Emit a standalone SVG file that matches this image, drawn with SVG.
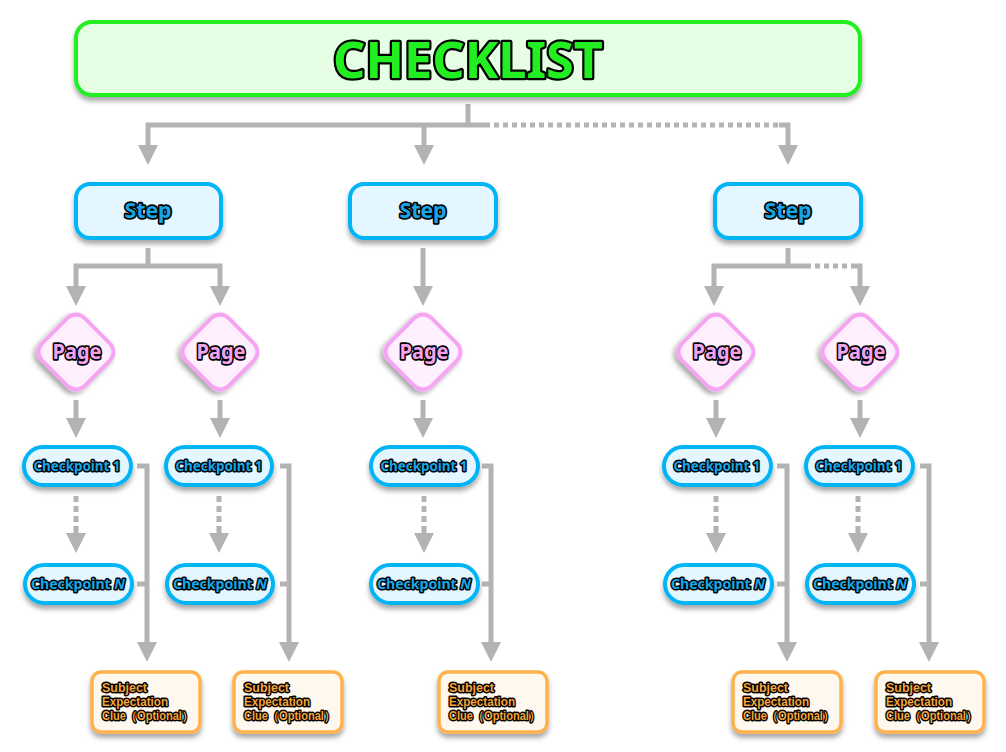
<svg xmlns="http://www.w3.org/2000/svg" width="1006" height="752" viewBox="0 0 1006 752">
<defs>
<filter id="sh" x="-20%" y="-20%" width="140%" height="160%">
<feDropShadow dx="0" dy="4" stdDeviation="2.5" flood-color="#000" flood-opacity="0.35"/>
</filter>
<marker id="ah" markerUnits="userSpaceOnUse" markerWidth="20" markerHeight="20" refX="0" refY="10" orient="auto" viewBox="0 0 20 20">
<path d="M0,0 L20,10 L0,20 z" fill="#b3b3b3"/>
</marker>
</defs>
<style>
.c{fill:none;stroke:#b3b3b3;stroke-width:5}
.a{marker-end:url(#ah)}
.d{stroke-dasharray:5 4}
.t{font-family:"Noto Sans","Open Sans",sans-serif;font-weight:bold;paint-order:stroke;stroke:#000;stroke-linejoin:round;text-anchor:middle}
.title{fill:#e6ffe4;stroke:#22ee22;stroke-width:4}
.step{fill:#e4f6ff;stroke:#00b4f5;stroke-width:4}
.page{fill:#fff0ff;stroke:#f7a3f3;stroke-width:4}
.subj{fill:#fff8ef;stroke:#ffb24c;stroke-width:3.5}
.ts{fill:#18a6e6;stroke-width:3.4;font-size:21px}
.tc{fill:#18a6e6;stroke-width:3;font-size:14px}
.tp{fill:#f2a3ef;stroke-width:3.4;font-size:22px}
.to{font-family:"Liberation Sans",Arial,sans-serif;fill:#f4a53c;stroke-width:2.8;font-size:12px;text-anchor:start}
</style>
<g id="connectors">
<path class="c" d="M468,104 V125"/>
<path class="c a" d="M485,125 H148 V145"/>
<path class="c a" d="M424,125 V145"/>
<path class="c d" d="M485,125 H781"/>
<path class="c a" d="M779,125 H788 V145"/>
<path class="c" d="M148,248 V266"/>
<path class="c a" d="M148,266 H76 V286"/>
<path class="c a" d="M148,266 H220 V286"/>
<path class="c a" d="M423,248 V286"/>
<path class="c" d="M788,248 V266"/>
<path class="c a" d="M806,266 H714 V286"/>
<path class="c d" d="M806,266 H852"/>
<path class="c a" d="M851,266 H860 V286"/>
<path class="c a" d="M76,400 V418"/>
<path class="c a" d="M220,400 V418"/>
<path class="c a" d="M423,400 V418"/>
<path class="c a" d="M716,400 V418"/>
<path class="c a" d="M860,400 V418"/>
<path class="c d" d="M76,496 V527" style="stroke-dasharray:6 4"/>
<path class="c a" d="M76,526 V533"/>
<path class="c d" d="M219,496 V527" style="stroke-dasharray:6 4"/>
<path class="c a" d="M219,526 V533"/>
<path class="c d" d="M424,496 V527" style="stroke-dasharray:6 4"/>
<path class="c a" d="M424,526 V533"/>
<path class="c d" d="M716,496 V527" style="stroke-dasharray:6 4"/>
<path class="c a" d="M716,526 V533"/>
<path class="c d" d="M858,496 V527" style="stroke-dasharray:6 4"/>
<path class="c a" d="M858,526 V533"/>
<path class="c" d="M137,584 H147"/>
<path class="c a" d="M137,466 H147 V642"/>
<path class="c" d="M280,584 H289"/>
<path class="c a" d="M280,466 H289 V642"/>
<path class="c" d="M482,584 H491"/>
<path class="c a" d="M482,466 H491 V642"/>
<path class="c" d="M777,584 H787"/>
<path class="c a" d="M777,466 H787 V642"/>
<path class="c" d="M920,584 H929"/>
<path class="c a" d="M920,466 H929 V642"/>
</g>
<g id="title">
<rect class="title" x="76" y="22" width="784" height="73" rx="16" filter="url(#sh)"/>
<text class="t" x="468" y="78" style="fill:#22ee22;stroke-width:4.5;font-size:51px" textLength="270" lengthAdjust="spacingAndGlyphs">CHECKLIST</text>
</g>
<g id="step1"><rect class="step" x="76" y="184" width="145" height="54" rx="14" filter="url(#sh)"/><text class="t ts" x="148" y="218" textLength="47" lengthAdjust="spacingAndGlyphs">Step</text></g>
<g id="step2"><rect class="step" x="350" y="184" width="146" height="54" rx="14" filter="url(#sh)"/><text class="t ts" x="423" y="218" textLength="47" lengthAdjust="spacingAndGlyphs">Step</text></g>
<g id="step3"><rect class="step" x="715" y="184" width="146" height="54" rx="14" filter="url(#sh)"/><text class="t ts" x="788" y="218" textLength="47" lengthAdjust="spacingAndGlyphs">Step</text></g>
<g id="page1"><rect class="page" x="46" y="322" width="60" height="60" rx="12" transform="rotate(45 76 352)" filter="url(#sh)"/><text class="t tp" x="77" y="359" textLength="49" lengthAdjust="spacingAndGlyphs">Page</text></g>
<g id="page2"><rect class="page" x="190" y="322" width="60" height="60" rx="12" transform="rotate(45 220 352)" filter="url(#sh)"/><text class="t tp" x="221" y="359" textLength="49" lengthAdjust="spacingAndGlyphs">Page</text></g>
<g id="page3"><rect class="page" x="393" y="322" width="60" height="60" rx="12" transform="rotate(45 423 352)" filter="url(#sh)"/><text class="t tp" x="424" y="359" textLength="49" lengthAdjust="spacingAndGlyphs">Page</text></g>
<g id="page4"><rect class="page" x="686" y="322" width="60" height="60" rx="12" transform="rotate(45 716 352)" filter="url(#sh)"/><text class="t tp" x="717" y="359" textLength="49" lengthAdjust="spacingAndGlyphs">Page</text></g>
<g id="page5"><rect class="page" x="830" y="322" width="60" height="60" rx="12" transform="rotate(45 860 352)" filter="url(#sh)"/><text class="t tp" x="861" y="359" textLength="49" lengthAdjust="spacingAndGlyphs">Page</text></g>
<g id="cp1a"><rect class="step" x="24" y="447" width="107" height="38" rx="19" filter="url(#sh)"/><text class="t tc" x="77" y="471" textLength="87" lengthAdjust="spacingAndGlyphs">Checkpoint 1</text></g>
<g id="cp1b"><rect class="step" x="166" y="447" width="106" height="38" rx="19" filter="url(#sh)"/><text class="t tc" x="219" y="471" textLength="87" lengthAdjust="spacingAndGlyphs">Checkpoint 1</text></g>
<g id="cp1c"><rect class="step" x="371" y="447" width="107" height="38" rx="19" filter="url(#sh)"/><text class="t tc" x="424" y="471" textLength="87" lengthAdjust="spacingAndGlyphs">Checkpoint 1</text></g>
<g id="cp1d"><rect class="step" x="664" y="447" width="107" height="38" rx="19" filter="url(#sh)"/><text class="t tc" x="717" y="471" textLength="87" lengthAdjust="spacingAndGlyphs">Checkpoint 1</text></g>
<g id="cp1e"><rect class="step" x="806" y="447" width="107" height="38" rx="19" filter="url(#sh)"/><text class="t tc" x="859" y="471" textLength="87" lengthAdjust="spacingAndGlyphs">Checkpoint 1</text></g>
<g id="cpNa"><rect class="step" x="25" y="565" width="107" height="38" rx="19" filter="url(#sh)"/><text class="t tc" x="78" y="589" textLength="94" lengthAdjust="spacingAndGlyphs">Checkpoint <tspan font-style="italic">N</tspan></text></g>
<g id="cpNb"><rect class="step" x="167" y="565" width="106" height="38" rx="19" filter="url(#sh)"/><text class="t tc" x="220" y="589" textLength="94" lengthAdjust="spacingAndGlyphs">Checkpoint <tspan font-style="italic">N</tspan></text></g>
<g id="cpNc"><rect class="step" x="371" y="565" width="107" height="38" rx="19" filter="url(#sh)"/><text class="t tc" x="424" y="589" textLength="94" lengthAdjust="spacingAndGlyphs">Checkpoint <tspan font-style="italic">N</tspan></text></g>
<g id="cpNd"><rect class="step" x="665" y="565" width="107" height="38" rx="19" filter="url(#sh)"/><text class="t tc" x="718" y="589" textLength="94" lengthAdjust="spacingAndGlyphs">Checkpoint <tspan font-style="italic">N</tspan></text></g>
<g id="cpNe"><rect class="step" x="807" y="565" width="107" height="38" rx="19" filter="url(#sh)"/><text class="t tc" x="860" y="589" textLength="94" lengthAdjust="spacingAndGlyphs">Checkpoint <tspan font-style="italic">N</tspan></text></g>
<g id="subj1"><rect class="subj" x="92" y="672" width="108" height="60" rx="9" filter="url(#sh)"/><text class="t to" x="102" y="692" textLength="45" lengthAdjust="spacingAndGlyphs">Subject</text><text class="t to" x="102" y="706" textLength="66" lengthAdjust="spacingAndGlyphs">Expectation</text><text class="t to" x="102" y="720" textLength="91" lengthAdjust="spacingAndGlyphs">Clue（Optional）</text></g>
<g id="subj2"><rect class="subj" x="234" y="672" width="108" height="60" rx="9" filter="url(#sh)"/><text class="t to" x="244" y="692" textLength="45" lengthAdjust="spacingAndGlyphs">Subject</text><text class="t to" x="244" y="706" textLength="66" lengthAdjust="spacingAndGlyphs">Expectation</text><text class="t to" x="244" y="720" textLength="91" lengthAdjust="spacingAndGlyphs">Clue（Optional）</text></g>
<g id="subj3"><rect class="subj" x="439" y="672" width="108" height="60" rx="9" filter="url(#sh)"/><text class="t to" x="449" y="692" textLength="45" lengthAdjust="spacingAndGlyphs">Subject</text><text class="t to" x="449" y="706" textLength="66" lengthAdjust="spacingAndGlyphs">Expectation</text><text class="t to" x="449" y="720" textLength="91" lengthAdjust="spacingAndGlyphs">Clue（Optional）</text></g>
<g id="subj4"><rect class="subj" x="733" y="672" width="108" height="60" rx="9" filter="url(#sh)"/><text class="t to" x="743" y="692" textLength="45" lengthAdjust="spacingAndGlyphs">Subject</text><text class="t to" x="743" y="706" textLength="66" lengthAdjust="spacingAndGlyphs">Expectation</text><text class="t to" x="743" y="720" textLength="91" lengthAdjust="spacingAndGlyphs">Clue（Optional）</text></g>
<g id="subj5"><rect class="subj" x="876" y="672" width="108" height="60" rx="9" filter="url(#sh)"/><text class="t to" x="886" y="692" textLength="45" lengthAdjust="spacingAndGlyphs">Subject</text><text class="t to" x="886" y="706" textLength="66" lengthAdjust="spacingAndGlyphs">Expectation</text><text class="t to" x="886" y="720" textLength="91" lengthAdjust="spacingAndGlyphs">Clue（Optional）</text></g>
</svg>
